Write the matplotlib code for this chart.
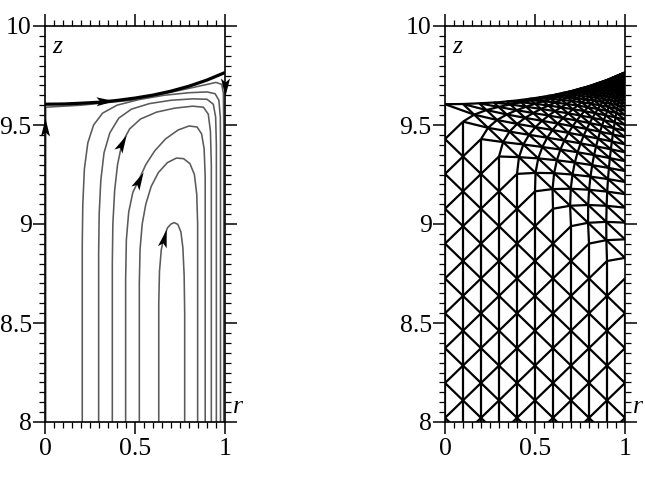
import numpy as np
import matplotlib
matplotlib.use('Agg')
import matplotlib.pyplot as plt
from matplotlib.collections import LineCollection
from matplotlib.markers import MarkerStyle
from matplotlib.path import Path
from matplotlib.transforms import Affine2D

plt.rcParams['font.family'] = ['Liberation Serif', 'DejaVu Serif']

# ---------------- data ----------------
surf_r = [0.0, 0.1, 0.2, 0.3, 0.4, 0.5, 0.6, 0.7, 0.8, 0.9, 1.0]
surf_z = [9.605, 9.606, 9.61, 9.615, 9.624, 9.636, 9.651, 9.671, 9.696, 9.727, 9.765]

stream_1 = [(0.632, 8.0), (0.632, 8.6), (0.636, 8.76), (0.646, 8.87), (0.66, 8.93), (0.68, 8.98), (0.70, 9.0),
            (0.718, 9.007), (0.738, 8.998), (0.755, 8.96), (0.766, 8.88), (0.773, 8.74), (0.776, 8.55),
            (0.776, 8.0)]
stream_2 = [(0.524, 8.0), (0.524, 8.7), (0.528, 8.87), (0.54, 9.0), (0.56, 9.1), (0.59, 9.19), (0.63, 9.26),
            (0.68, 9.31), (0.73, 9.333), (0.77, 9.33), (0.805, 9.305), (0.83, 9.25), (0.843, 9.15),
            (0.848, 9.0), (0.848, 8.8), (0.848, 8.0)]
stream_3 = [(0.448, 8.0), (0.448, 8.72), (0.452, 8.92), (0.465, 9.06), (0.488, 9.16), (0.52, 9.22),
            (0.56, 9.3), (0.61, 9.37), (0.67, 9.43), (0.74, 9.475), (0.80, 9.495), (0.845, 9.49), (0.87, 9.455),
            (0.884, 9.38), (0.89, 9.24), (0.89, 9.0), (0.89, 8.0)]
stream_4 = [(0.374, 8.0), (0.374, 8.8), (0.377, 9.0), (0.387, 9.17), (0.403, 9.3), (0.428, 9.409),
            (0.47, 9.48), (0.53, 9.53), (0.62, 9.565), (0.72, 9.585), (0.82, 9.595), (0.88, 9.59),
            (0.907, 9.555), (0.919, 9.47), (0.924, 9.3), (0.924, 8.0)]
stream_5 = [(0.298, 8.0), (0.298, 8.85), (0.301, 9.05), (0.31, 9.22), (0.328, 9.36), (0.36, 9.46),
            (0.41, 9.535), (0.48, 9.58), (0.58, 9.608), (0.7, 9.625), (0.82, 9.632), (0.9, 9.63),
            (0.935, 9.605), (0.948, 9.54), (0.952, 9.4), (0.952, 8.0)]
stream_6 = [(0.207, 8.0), (0.207, 8.9), (0.21, 9.1), (0.219, 9.28), (0.238, 9.41), (0.27, 9.5),
            (0.32, 9.56), (0.4, 9.6), (0.52, 9.628), (0.66, 9.65), (0.8, 9.663), (0.9, 9.667), (0.945, 9.658),
            (0.966, 9.625), (0.974, 9.54), (0.975, 9.4), (0.975, 8.0)]
stream_7 = [(0.004, 8.0), (0.004, 9.59), (0.2, 9.6), (0.5, 9.627), (0.8, 9.685), (0.95, 9.715),
            (0.982, 9.705), (0.991, 9.66), (0.993, 9.5), (0.993, 8.0)]
streams = [stream_1, stream_2, stream_3, stream_4, stream_5, stream_6, stream_7]

# arrowheads: position (r, z) and direction (dr, dz)
arrow_pos = [(0.333, 9.621), (0.0, 9.49), (1.0, 9.69), (0.428, 9.409), (0.52, 9.22), (0.66, 8.93)]
arrow_dir = [(1.0, 0.03), (0.0, 1.0), (0.0, -1.0), (0.45, 0.8), (0.45, 0.8), (0.28, 1.0)]

# mesh structure
mesh_cols = 10
col_drop = 0.088
node_step = 0.176
grade = 0.9
n_levels = 48
bend = 1.6

xticks = [0, 0.5, 1]
xticklabels = ['0', '0.5', '1']
yticks = [8, 8.5, 9, 9.5, 10]
yticklabels = ['8', '8.5', '9', '9.5', '10']

# ---------------- figure ----------------
W, H = 645, 478
fig = plt.figure(figsize=(W / 100, H / 100), dpi=100)
axL = fig.add_axes([45 / W, 1 - 422 / H, 180 / W, 396 / H])
axR = fig.add_axes([445 / W, 1 - 422 / H, 180 / W, 396 / H])
PXR, PXZ = 180.0, 198.0


def style(ax):
    ax.set_xlim(0, 1)
    ax.set_ylim(8, 10)
    for s in ax.spines.values():
        s.set_linewidth(1.2)
        s.set_color('black')
        s.set_zorder(5)
    ax.set_xticks(xticks)
    ax.set_xticklabels(xticklabels)
    ax.set_yticks(yticks)
    ax.set_yticklabels(yticklabels)
    ax.set_xticks(np.linspace(0, 1, 21), minor=True)
    ax.set_yticks(np.linspace(8, 10, 41), minor=True)
    ax.tick_params(which='both', direction='out', top=True, right=True,
                   labeltop=False, labelright=False, colors='black')
    ax.tick_params(which='major', length=8.6, width=1.1, labelsize=18.5)
    ax.tick_params(axis='x', which='major', pad=3)
    ax.tick_params(axis='y', which='major', pad=1)
    ax.tick_params(which='minor', length=4.3, width=0.9)
    ax.text(0.04, 9.895, 'z', style='italic', fontsize=18.5, ha='left', va='center')
    ax.text(1.045, 8.075, 'r', style='italic', fontsize=18.5, ha='left', va='center',
            clip_on=False)


def dart(ax, x, y, dx, dy, size=13):
    ang = np.degrees(np.arctan2(dy * PXZ, dx * PXR))
    verts = [(1.0, 0.0), (-1.0, 0.5), (-0.55, 0.0), (-1.0, -0.5), (1.0, 0.0)]
    codes = [Path.MOVETO, Path.LINETO, Path.LINETO, Path.LINETO, Path.CLOSEPOLY]
    m = MarkerStyle(Path(verts, codes), transform=Affine2D().rotate_deg(ang))
    ax.plot([x], [y], marker=m, markersize=size, color='black', markeredgewidth=0,
            linestyle='none', zorder=6, clip_on=False)


style(axL)
for s in streams:
    a = np.array(s)
    axL.plot(a[:, 0], a[:, 1], color='#5a5a5a', lw=1.15, zorder=2)
sr = np.linspace(0, 1, 101)
sz = np.interp(sr, surf_r, surf_z)
axL.plot(sr, sz, color='black', lw=2.3, zorder=4, solid_capstyle='butt')
for (x, y), (dx, dy) in zip(arrow_pos, arrow_dir):
    dart(axL, x, y, dx, dy)

# ---------------- right panel: mesh ----------------
style(axR)
zA, zP = surf_z[0], surf_z[-1]
zB = zA - mesh_cols * col_drop
segs = []


def node(k, j):
    return (k / mesh_cols, zA + j * node_step - k * col_drop)


jmin = -14
for k in range(mesh_cols + 1):
    segs.append([(k / mesh_cols, 7.0), node(k, 0)])
for j in range(jmin, 0):
    segs.append([node(0, j), node(mesh_cols, j)])
for j in range(jmin, 0):
    for k in range(mesh_cols):
        segs.append([node(k, j), node(k + 1, j + 1)])

# graded region between the last full row, the free surface and the wall
T = np.zeros((mesh_cols + 1, n_levels + 1, 2))
for n in range(n_levels + 1):
    rho = grade ** n
    Sr = 1 - rho
    Sz = np.interp(Sr, surf_r, surf_z)
    Wz = zP - (zP - zB) * rho
    expo = 1 + bend * (1 - rho)
    for i in range(mesh_cols + 1):
        t = (i / mesh_cols) ** expo
        T[i, n] = (Sr + t * (1 - Sr), Sz + t * (Wz - Sz))
for n in range(1, n_levels + 1):
    segs.append([tuple(T[0, n]), tuple(T[mesh_cols, n])])
for i in range(1, mesh_cols):
    segs.append([tuple(p) for p in T[i]] + [(1.0, zP)])
for n in range(n_levels):
    for i in range(mesh_cols):
        segs.append([tuple(T[i, n]), tuple(T[i + 1, n + 1])])

axR.add_collection(LineCollection(segs, colors='black', linewidths=1.6, zorder=2))
axR.plot(sr, sz, color='black', lw=1.6, zorder=3)

fig.savefig('out.png', dpi=100)
